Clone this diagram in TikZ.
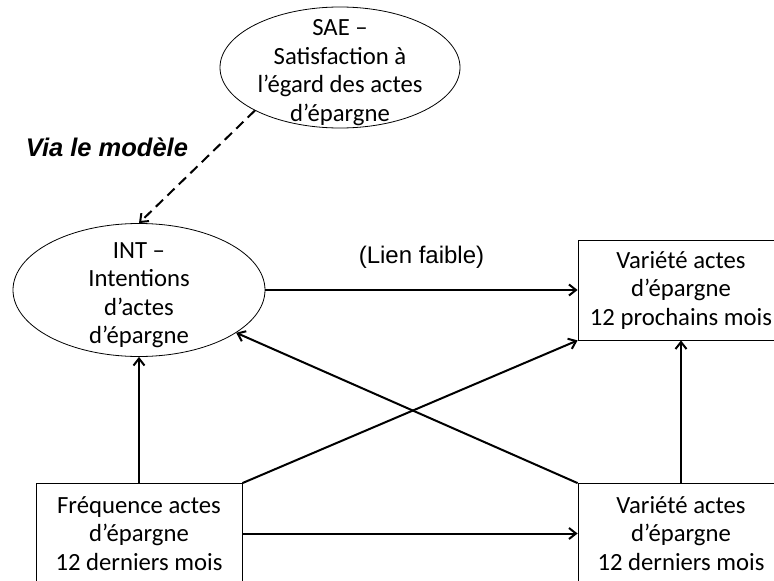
\documentclass[tikz,border=0pt]{standalone}
\usepackage{fontspec}
\setmainfont{Carlito}
\newfontfamily\arialfont{Liberation Sans}
\usetikzlibrary{shapes.geometric,arrows.meta,positioning}

\newcommand{\diagfont}{\fontsize{24.7}{28.5}\selectfont}

\tikzstyle{e} = [ellipse, draw, line width=0.8pt]
\tikzstyle{t} = [align=center, font=\diagfont, yshift=-5pt]
\tikzstyle{b} = [rectangle, draw, line width=0.8pt, node distance=542pt, minimum width=206pt, minimum height=100pt, align=center, font=\diagfont]
\tikzstyle{k} = [->, line width=2pt]
\tikzstyle{u} = [midway, above=17pt, font=\arialfont\fontsize{24}{28}\selectfont]

\begin{document}
\begin{tikzpicture}[auto, x=1pt, y=1pt, >={Straight Barb[length=7pt,width=11pt]}]
	\path [use as bounding box, clip] (0,0) rectangle (774,-581);

	\node [e, minimum width=240pt, minimum height=121pt, label={[t]center:SAE –\\Satisfaction à\\l’égard des actes\\d’épargne}] (sae) at (340,-67.5) {};
	\node [e, minimum width=252pt, minimum height=133pt, label={[t]center:INT –\\Intentions\\d’actes\\d’épargne}] (int) at (139,-290) {};
	\node [b, right of=int] (tr) {Variété actes\\d’épargne\\12 prochains mois};
	\node [b, node distance=243.5pt, below of=int] (bl) {Fréquence actes\\d’épargne\\12 derniers mois};
	\node [b, right of=bl] (br) {Variété actes\\d’épargne\\12 derniers mois};
	\node [font=\arialfont\bfseries\itshape\fontsize{25.5}{28}\selectfont] (via) at (107,-147) {Via le modèle};

	\draw [k, dash pattern=on 10pt off 6pt] (sae.south west) -- (int.north);
	\draw [k] (int.east) -- (tr.west) node [u] {(Lien faible)};
	\draw [k] (bl.north) -- (int.south);
	\draw [k] (br.north) -- (tr.south);
	\draw [k] (bl.north east) -- (tr.south west);
	\draw [k] (br.north west) -- (int);
	\draw [k] (bl.east) -- (br.west);

\end{tikzpicture}
\end{document}
